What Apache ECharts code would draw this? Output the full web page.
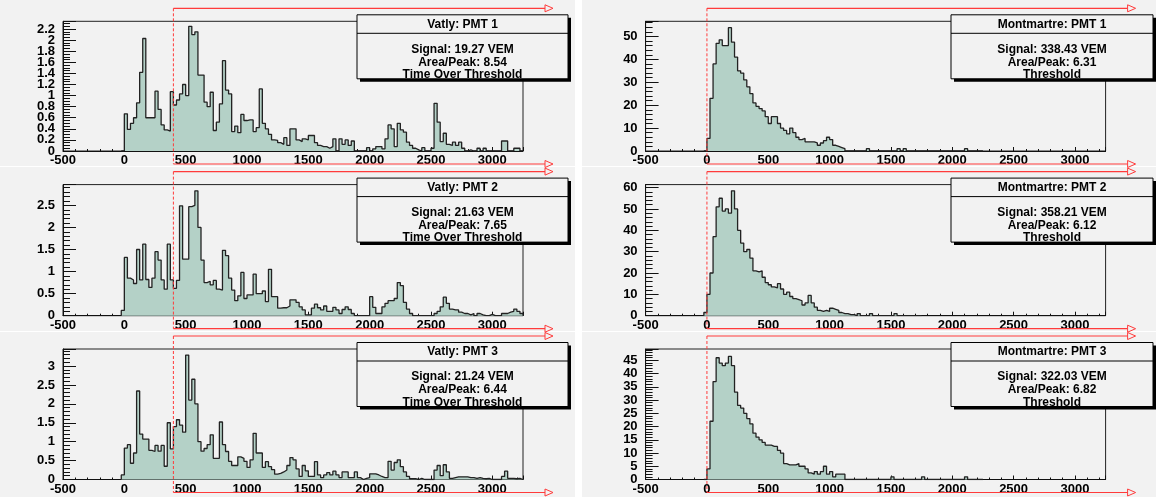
<!DOCTYPE html>
<html><head><meta charset="utf-8">
<script src="https://cdn.jsdelivr.net/npm/echarts@6/dist/echarts.min.js"></script>
<style>html,body{margin:0;padding:0;background:#fff}#c{width:1156px;height:497px}</style>
</head><body><div id="c"></div><script>
// ---- data (bin width 25 ns, first bin starts at -25) ----
const BIN_WIDTH = 25;
const FIRST_BIN = -25;
const X_MIN = -500, X_MAX = 3250, X_INTERVAL = 500;

const vatly1 = [0,
 0.67,0.39,0.5,0.6,0.87,1.42,2.03,0.6,0.6,0.6,
 1.08,0.75,0.47,0.38,0.36,1.07,0.83,0.92,1.03,1.2,
 1.0,2.25,2.1,2.15,1.37,1.37,0.88,0.8,1.06,0.37,
 0.52,0.85,1.63,1.1,1.03,0.35,0.45,0.33,0.66,0.55,
 0.56,0.56,0.35,0.42,1.12,0.5,0.4,0.3,0.2,0.19,
 0.15,0.12,0.24,0.1,0.4,0.4,0.2,0.17,0.22,0.2,
 0.28,0.28,0.15,0.1,0.08,0.08,0.05,0.08,0.22,0.0,
 0.22,0.12,0.2,0.1,0.18,0.0,0.0,0.0,0.0,0.06,
 0.0,0.04,0.08,0.08,0.04,0.22,0.47,0.4,0.08,0.5,
 0.38,0.34,0.16,0.1,0.05,0.02,0.0,0.06,0.0,0.0,
 0.05,0.86,0.52,0.17,0.32,0.12,0.1,0.16,0.1,0.16,
 0.05,0.0,0.02,0.0,0.0,0.05,0.0,0.05,0.0,0.0,
 0.0,0.0,0.0,0.18,0.18,0.0,0.0,0.05,0.05,0.0];
const vatly2 = [0.12,
 1.32,0.85,0.81,0.73,1.5,0.81,1.62,0.82,0.64,0.85,
 1.45,1.26,0.81,0.6,1.62,0.81,0.62,0.8,2.49,1.28,
 1.28,2.47,2.5,2.83,2.0,1.26,0.75,0.78,0.7,0.8,
 0.6,0.58,1.48,1.36,0.85,0.58,0.34,0.45,0.98,0.39,
 0.47,0.47,0.94,0.5,0.5,0.56,0.32,1.05,0.43,0.43,
 0.17,0.18,0.18,0.22,0.36,0.36,0.3,0.2,0.13,0.02,
 0.02,0.17,0.26,0.18,0.13,0.22,0.1,0.1,0.19,0.13,
 0.05,0.14,0.2,0.14,0.05,0.0,0.0,0.0,0.0,0.0,
 0.43,0.19,0.05,0.05,0.2,0.28,0.34,0.34,0.39,0.75,
 0.68,0.3,0.15,0.05,0,0,0,0,0,0,
 0,0.05,0.1,0.2,0.42,0.28,0.15,0.13,0.13,0.08,
 0.05,0.05,0.02,0.05,0,0.05,0.02,0,0,0.03,
 0,0,0,0.05,0.05,0.08,0.1,0.15,0.1,0.05];
const vatly3 = [0.12,
 0.83,0.92,0.43,0.7,2.34,1.2,1.07,1.07,0.77,0.74,
 0.9,0.75,0.9,0.35,1.5,0.81,1.4,1.58,1.44,1.25,
 3.29,2.1,2.65,2.0,1.0,0.75,0.82,0.92,1.18,0.56,
 0.56,1.52,0.92,0.74,0.48,0.37,0.37,0.6,0.56,0.48,
 0.32,0.52,1.22,0.7,0.7,0.32,0.47,0.34,0.26,0.14,
 0.16,0.2,0.25,0.37,0.58,0.52,0.28,0.08,0.37,0.23,
 0.08,0.08,0.47,0.12,0.05,0.12,0.18,0.12,0.22,0.12,
 0.05,0.2,0.2,0.05,0.05,0.2,0.05,0.0,0.03,0.05,
 0.15,0.15,0.12,0.08,0.05,0.05,0.48,0.25,0.45,0.52,
 0.34,0.2,0.08,0.02,0.02,0,0.03,0,0,0,
 0,0.25,0.37,0.1,0.39,0.2,0.03,0.05,0.07,0.07,
 0.07,0.07,0.05,0.05,0.03,0.05,0.03,0.02,0.03,0,
 0,0,0,0.08,0.22,0.03,0.03,0.02,0.03,0];
const mont1 = [0,
 5.5,23,38,47,48.5,46,46,53.8,47.5,41,
 35,34,31,28,25,21,19.5,18.5,17.5,15,
 12,15,15,12,10,9,7.5,10,8,6,
 5,5.5,4,4,4,3.5,2.5,3.5,4.5,6,
 5,2.5,2,1.5,1,0,0,0,0,0,
 0,0,1,0,0,0,0,0,0,0,
 0,0,1,0,1,0,0,0,0,0,
 0,0,0,0,0,0,0,0,0,0,
 0,0,0,0,1,0,0,0,0,0];
const mont2 = [1.5,
 10,20,37,51,55,49,50,48,58.5,50,
 40,34,30,31,27,21,20.5,21,18,15.5,
 14.5,13.5,13,15,12.5,10,11,9,8,7.5,
 7,5,6,9.5,6,4,2.5,2,2.5,2,
 3.5,3,2.5,1.5,1,1,0.5,0.5,0,1,
 0,0,0,1,0,0,0,0,0,0,
 0,1,0,0,0,0,0,0,0,0];
const mont3 = [0,
 4,22,37,46,44,43,44,46.5,43,33,
 28,27,25,23,21,17.5,16,15,14,13,
 13,12.5,12.5,11,10,6,5.5,5.5,5.5,6,
 5,5,4,2.5,2,3,2,3,5,2,
 3,1,2,2,2,0,0,0,0,0,
 0,0,0,0,0,0,0,0,0,0,
 1,0,0,0,0,0,0,0,0,0,
 1,0,0,0,0,0,0,0,0,0,
 0,0,0,0,1,0,0,0,0,0];

const panelData = [vatly1, mont1, vatly2, mont2, vatly3, mont3];
const panelTitles = ['Vatly: PMT 1','Montmartre: PMT 1','Vatly: PMT 2','Montmartre: PMT 2','Vatly: PMT 3','Montmartre: PMT 3'];
const signalText = ['Signal: 19.27 VEM','Signal: 338.43 VEM','Signal: 21.63 VEM','Signal: 358.21 VEM','Signal: 21.24 VEM','Signal: 322.03 VEM'];
const areaPeakText = ['Area/Peak: 8.54','Area/Peak: 6.31','Area/Peak: 7.65','Area/Peak: 6.12','Area/Peak: 6.44','Area/Peak: 6.82'];
const triggerText = ['Time Over Threshold','Threshold','Time Over Threshold','Threshold','Time Over Threshold','Threshold'];
const thresholds = [400, 0, 400, 0, 400, 0];
const yMax = [2.34, 56.6, 2.97, 61.4, 3.45, 49.3];
const yInterval = [0.2, 10, 0.5, 10, 0.5, 5];
const yMinorSplit = [4, 5, 5, 5, 5, 5];
const Y_ZERO_LABEL = '0';

// ---- layout ----
const colLeft = [63, 645.6];
const FRAME_W = 460;
const rowTop = [21.3, 184.6, 349];
const rowH = [129.7, 131.1, 130.5];
const boxX = [[357, 568], [951, 1153]];
const padRects = [[0,0,575,166],[582,0,574,166],[0,167,575,164],[582,167,574,164],[0,332,575,165],[582,332,574,165]];
const FILL = '#b4d1c7', PAD_BG = '#f2f2f2', RED = '#ff3b3b';

function stepData(vals){
  const d = [[FIRST_BIN, 0]];
  vals.forEach((v,i)=>d.push([FIRST_BIN + i*BIN_WIDTH, v]));
  const end = FIRST_BIN + vals.length*BIN_WIDTH;
  d.push([end, vals[vals.length-1]]);
  d.push([end, 0]);
  return d;
}

const chart = echarts.init(document.getElementById('c'), null, {renderer:'canvas'});
const grids=[], xAxes=[], yAxes=[], series=[];
const FONT_FAMILY = 'Liberation Sans, Arial, sans-serif';
const labelFont = {color:'#000', fontWeight:'bold', fontSize:13, fontFamily:FONT_FAMILY};
const plain = v => String(v);
for (let p=0;p<6;p++){
  const row = Math.floor(p/2), col = p%2;
  grids.push({left:colLeft[col], top:rowTop[row], width:FRAME_W, height:rowH[row], show:true,
    borderColor:'#222', borderWidth:1, backgroundColor:'transparent', containLabel:false});
  xAxes.push({type:'value', gridIndex:p, min:X_MIN, max:X_MAX, interval:X_INTERVAL,
    axisLine:{show:true, onZero:false, lineStyle:{color:'#111', width:1}},
    axisTick:{show:true, inside:true, length:4, lineStyle:{color:'#111'}},
    minorTick:{show:true, splitNumber:5, length:2, lineStyle:{color:'#111'}},
    splitLine:{show:false},
    axisLabel:Object.assign({margin:3, interval:0, showMaxLabel:false, hideOverlap:false, formatter:plain}, labelFont)});
  yAxes.push({type:'value', gridIndex:p, min:0, max:yMax[p], interval:yInterval[p],
    axisLine:{show:true, onZero:false, lineStyle:{color:'#111', width:1}},
    axisTick:{show:true, inside:true, length:13, lineStyle:{color:'#111'}},
    minorTick:{show:true, splitNumber:yMinorSplit[p], length:7, lineStyle:{color:'#111'}},
    splitLine:{show:false},
    axisLabel:Object.assign({margin:8, interval:0, showMaxLabel:false, showMinLabel:false, hideOverlap:false, formatter:plain}, labelFont)});
  series.push({type:'line', xAxisIndex:p, yAxisIndex:p, step:'end', showSymbol:false, symbol:'none',
    data:stepData(panelData[p]), lineStyle:{color:'#222', width:1.3},
    areaStyle:{color:FILL, opacity:1, origin:'start'}, animation:false, z:3});
}
chart.setOption({animation:false, backgroundColor:'#ffffff', grid:grids, xAxis:xAxes, yAxis:yAxes, series:series});

// ---- annotations (threshold marker, arrows, stat boxes, pads, y zero label) ----
const g = [];
padRects.forEach(r=>g.push({type:'rect', shape:{x:r[0],y:r[1],width:r[2],height:r[3]}, style:{fill:PAD_BG}, z:-10, silent:true}));
for (let p=0;p<6;p++){
  const row = Math.floor(p/2), col = p%2;
  const top = rowTop[row], bottom = rowTop[row]+rowH[row];
  const right = colLeft[col]+FRAME_W;
  const tx = chart.convertToPixel({xAxisIndex:p}, thresholds[p]);
  const y0 = chart.convertToPixel({yAxisIndex:p}, 0);
  g.push({type:'text', x:colLeft[col]-8, y:y0, style:{text:Y_ZERO_LABEL, fill:'#000', font:'bold 13px ' + FONT_FAMILY, textAlign:'right', textVerticalAlign:'middle'}, z:40, silent:true});
  const yTop = top-13, yBot = bottom+13;
  const tip = right+30;
  [yTop, yBot].forEach(yy=>{
    g.push({type:'line', shape:{x1:tx,y1:yy,x2:tip-8,y2:yy}, style:{stroke:RED, lineWidth:1.2}, z:50, silent:true});
    g.push({type:'polygon', shape:{points:[[tip-8,yy-3.5],[tip,yy],[tip-8,yy+3.5]]}, style:{fill:PAD_BG, stroke:RED, lineWidth:1}, z:50, silent:true});
  });
  g.push({type:'line', shape:{x1:tx,y1:yTop,x2:tx,y2:yBot}, style:{stroke:RED, lineWidth:1, lineDash:[3,2]}, z:50, silent:true});
  // stats box
  const bx = boxX[col][0], bw = boxX[col][1]-boxX[col][0];
  const by = top-6.5, bh = 64;
  g.push({type:'rect', shape:{x:bx+3,y:by+3,width:bw,height:bh}, style:{fill:'#000'}, z:60, silent:true});
  g.push({type:'rect', shape:{x:bx,y:by,width:bw,height:bh}, style:{fill:PAD_BG, stroke:'#000', lineWidth:1}, z:61, silent:true});
  g.push({type:'line', shape:{x1:bx,y1:by+18.5,x2:bx+bw,y2:by+18.5}, style:{stroke:'#000', lineWidth:1}, z:62, silent:true});
  const tf = {fill:'#000', font:'bold 12px ' + FONT_FAMILY, textAlign:'center', textVerticalAlign:'middle'};
  const cx = bx + bw/2;
  g.push({type:'text', x:cx, y:by+9.5, style:Object.assign({text:panelTitles[p]}, tf), z:63, silent:true});
  g.push({type:'text', x:cx, y:by+34.5, style:Object.assign({text:signalText[p]}, tf), z:63, silent:true});
  g.push({type:'text', x:cx, y:by+47.5, style:Object.assign({text:areaPeakText[p]}, tf), z:63, silent:true});
  g.push({type:'text', x:cx, y:by+60, style:Object.assign({text:triggerText[p]}, tf), z:63, silent:true});
}
chart.setOption({graphic:g});
</script></body></html>
